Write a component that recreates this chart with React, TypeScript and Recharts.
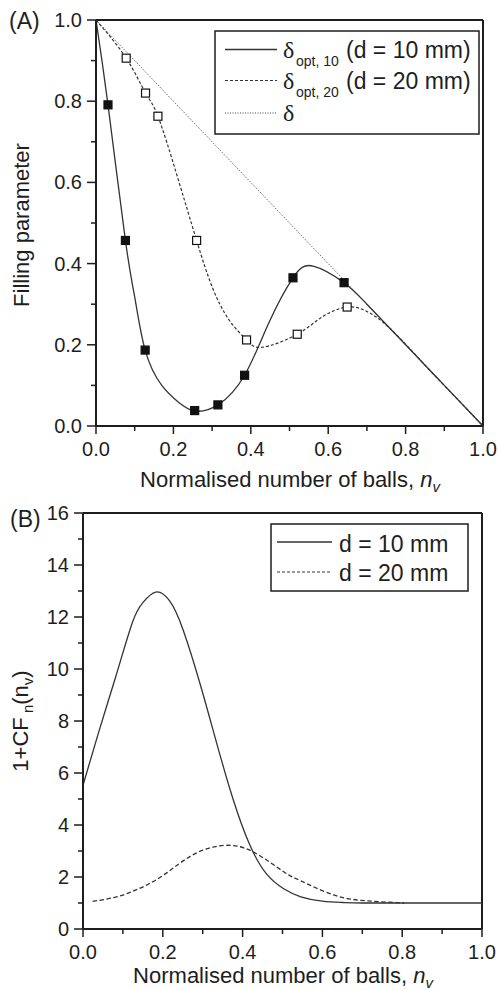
import React from 'react';
import { ComposedChart, Line, Scatter, XAxis, YAxis, ReferenceLine } from 'recharts';

const FONT = '"Liberation Sans", Arial, sans-serif';
const INK = '#1e1e1e';
const LINE = '#333';

const xTicks = [0, 0.1, 0.2, 0.3, 0.4, 0.5, 0.6, 0.7, 0.8, 0.9, 1];
const fillTicks = [0, 0.1, 0.2, 0.3, 0.4, 0.5, 0.6, 0.7, 0.8, 0.9, 1];
const cfTicks = [0, 1, 2, 3, 4, 5, 6, 7, 8, 9, 10, 11, 12, 13, 14, 15, 16];

// (A) measured points
const opt10X = [0.031, 0.076, 0.127, 0.255, 0.315, 0.384, 0.509, 0.641];
const opt10Y = [0.791, 0.457, 0.187, 0.038, 0.052, 0.125, 0.365, 0.353];
const opt20X = [0.078, 0.128, 0.16, 0.26, 0.389, 0.52, 0.649];
const opt20Y = [0.906, 0.82, 0.763, 0.457, 0.212, 0.226, 0.293];

// (A) fitted curves
const curve10X = [0, 0.031, 0.076, 0.1, 0.127, 0.17, 0.214, 0.255, 0.315, 0.384, 0.447, 0.509, 0.561, 0.641, 0.7, 0.8, 0.9, 1];
const curve10Y = [1, 0.791, 0.457, 0.318, 0.187, 0.1, 0.058, 0.037, 0.052, 0.125, 0.255, 0.365, 0.394, 0.353, 0.3, 0.2, 0.1, 0];
const curve20X = [0, 0.078, 0.128, 0.16, 0.21, 0.26, 0.3, 0.344, 0.389, 0.43, 0.52, 0.585, 0.649, 0.7, 0.76, 0.85, 0.93, 1];
const curve20Y = [1, 0.906, 0.82, 0.763, 0.615, 0.457, 0.343, 0.261, 0.212, 0.194, 0.226, 0.269, 0.293, 0.282, 0.24, 0.15, 0.07, 0];
const deltaX = [0, 1];
const deltaY = [1, 0];

// (B) 1+CF_n(n_v)
const cf10X = [0, 0.041, 0.082, 0.124, 0.15, 0.182, 0.218, 0.251, 0.293, 0.335, 0.377, 0.419, 0.461, 0.503, 0.546, 0.6, 0.65, 0.7, 0.8, 0.9, 1];
const cf10Y = [5.53, 7.66, 9.7, 11.8, 12.55, 12.96, 12.6, 11.5, 9.45, 7.15, 4.95, 3.2, 2.1, 1.55, 1.24, 1.07, 1.02, 1.0, 1.0, 1.0, 1.0];
const cf20X = [0.024, 0.08, 0.125, 0.167, 0.209, 0.251, 0.3, 0.36, 0.427, 0.503, 0.546, 0.63, 0.714, 0.805];
const cf20Y = [1.06, 1.22, 1.45, 1.75, 2.15, 2.62, 3.03, 3.22, 2.96, 2.2, 1.85, 1.3, 1.08, 1.0];

const pts = (xs: number[], ys: number[]) => xs.map((x, i) => ({ x, y: ys[i] }));

const XTick = (props: any) => {
  const { x, y, payload } = props;
  const v = payload.value;
  const major = Math.round(v * 10) % 2 === 0;
  return (
    <g>
      <line x1={x} x2={x} y1={y} y2={y + (major ? 8 : 5)} stroke={INK} strokeWidth={1.5} />
      {major && (
        <text x={x} y={y + 30} textAnchor="middle" fontSize={20} fontFamily={FONT} fill={INK}>
          {v.toFixed(1)}
        </text>
      )}
    </g>
  );
};

const makeYTick = (isMajor: (v: number) => boolean, fmt: (v: number) => string) => (props: any) => {
  const { x, y, payload } = props;
  const v = payload.value;
  const major = isMajor(v);
  return (
    <g>
      <line x1={x - (major ? 9 : 5)} x2={x} y1={y} y2={y} stroke={INK} strokeWidth={1.5} />
      {major && (
        <text x={x - 14} y={y + 7} textAnchor="end" fontSize={20} fontFamily={FONT} fill={INK}>
          {fmt(v)}
        </text>
      )}
    </g>
  );
};

const FillTick = makeYTick((v) => Math.round(v * 10) % 2 === 0, (v) => v.toFixed(1));
const CfTick = makeYTick((v) => v % 2 === 0, (v) => String(v));

const square = (filled: boolean) => (props: any) => (
  <rect
    x={props.cx - 4}
    y={props.cy - 4}
    width={8}
    height={8}
    fill={filled ? '#111' : '#fff'}
    stroke="#111"
    strokeWidth={1.2}
  />
);

const axisLine = { stroke: INK, strokeWidth: 2 };

export default function App() {
  return (
    <div style={{ position: 'absolute', left: 0, top: 0, width: 498, height: 990, background: '#fff' }}>
      <div style={{ position: 'absolute', left: 0, top: 0 }}>
        <ComposedChart width={498} height={490} margin={{ top: 20, right: 15, left: 0, bottom: 0 }}>
          <XAxis
            dataKey="x"
            type="number"
            domain={[0, 1]}
            ticks={xTicks}
            interval={0}
            tickSize={0}
            tickMargin={0}
            tickLine={false}
            tick={XTick}
            axisLine={axisLine}
            height={64}
          />
          <YAxis
            type="number"
            domain={[0, 1]}
            ticks={fillTicks}
            interval={0}
            tickSize={0}
            tickMargin={0}
            tickLine={false}
            tick={FillTick}
            axisLine={axisLine}
            width={96}
          />
          <ReferenceLine y={1} stroke={INK} strokeWidth={2} />
          <ReferenceLine x={1} stroke={INK} strokeWidth={2} />
          <Line data={pts(deltaX, deltaY)} dataKey="y" type="linear" stroke="#444" strokeWidth={1} strokeDasharray="1 1.5" dot={false} isAnimationActive={false} />
          <Line data={pts(curve20X, curve20Y)} dataKey="y" type="natural" stroke={LINE} strokeWidth={1.2} strokeDasharray="3 2" dot={false} isAnimationActive={false} />
          <Line data={pts(curve10X, curve10Y)} dataKey="y" type="natural" stroke={LINE} strokeWidth={1.3} dot={false} isAnimationActive={false} />
          <Scatter data={pts(opt20X, opt20Y)} dataKey="y" shape={square(false)} isAnimationActive={false} />
          <Scatter data={pts(opt10X, opt10Y)} dataKey="y" shape={square(true)} isAnimationActive={false} />
        </ComposedChart>
      </div>
      <div style={{ position: 'absolute', left: 0, top: 490 }}>
        <ComposedChart width={498} height={500} margin={{ top: 23, right: 16, left: 0, bottom: 0 }}>
          <XAxis
            dataKey="x"
            type="number"
            domain={[0, 1]}
            ticks={xTicks}
            interval={0}
            tickSize={0}
            tickMargin={0}
            tickLine={false}
            tick={XTick}
            axisLine={axisLine}
            height={61}
          />
          <YAxis
            type="number"
            domain={[0, 16]}
            ticks={cfTicks}
            interval={0}
            tickSize={0}
            tickMargin={0}
            tickLine={false}
            tick={CfTick}
            axisLine={axisLine}
            width={83}
          />
          <ReferenceLine y={16} stroke={INK} strokeWidth={2} />
          <ReferenceLine x={1} stroke={INK} strokeWidth={2} />
          <Line data={pts(cf20X, cf20Y)} dataKey="y" type="natural" stroke={LINE} strokeWidth={1.3} strokeDasharray="4.5 2.5" dot={false} isAnimationActive={false} />
          <Line data={pts(cf10X, cf10Y)} dataKey="y" type="natural" stroke={LINE} strokeWidth={1.3} dot={false} isAnimationActive={false} />
        </ComposedChart>
      </div>
      <svg width={498} height={990} style={{ position: 'absolute', left: 0, top: 0, pointerEvents: 'none' }} fontFamily={FONT} fill={INK}>
        {/* panel labels */}
        <text x={9} y={29} fontSize={23}>(A)</text>
        <text x={10} y={527} fontSize={23}>(B)</text>

        {/* axis titles A */}
        <text transform="translate(29,225) rotate(-90)" textAnchor="middle" fontSize={22}>Filling parameter</text>
        <text x={290} y={487} textAnchor="middle" fontSize={22}>
          Normalised number of balls, <tspan fontStyle="italic">n</tspan>
          <tspan fontStyle="italic" fontSize={15} dy={5}>v</tspan>
        </text>

        {/* axis titles B */}
        <text transform="translate(28,721) rotate(-90)" textAnchor="middle" fontSize={22}>
          1+CF<tspan fontSize={15} dy={5}> n</tspan>
          <tspan dy={-5}>(n</tspan>
          <tspan fontSize={15} dy={5}>v</tspan>
          <tspan dy={-5}>)</tspan>
        </text>
        <text x={283} y={983} textAnchor="middle" fontSize={22}>
          Normalised number of balls, <tspan fontStyle="italic">n</tspan>
          <tspan fontStyle="italic" fontSize={15} dy={5}>v</tspan>
        </text>

        {/* legend A */}
        <rect x={215} y={31} width={264} height={103} fill="#fff" stroke={INK} strokeWidth={1.5} />
        <line x1={225} x2={277} y1={49.5} y2={49.5} stroke={LINE} strokeWidth={1.3} />
        <line x1={225} x2={277} y1={80.5} y2={80.5} stroke={LINE} strokeWidth={1.2} strokeDasharray="3 2" />
        <line x1={225} x2={277} y1={113} y2={113} stroke="#444" strokeWidth={1} strokeDasharray="1 1.5" />
        <text x={283} y={58} fontSize={24} fontFamily='"Liberation Serif", serif'>δ</text>
        <text x={296} y={66} fontSize={14}>opt, 10</text>
        <text x={346} y={58} fontSize={23}>(d = 10 mm)</text>
        <text x={283} y={89} fontSize={24} fontFamily='"Liberation Serif", serif'>δ</text>
        <text x={296} y={97} fontSize={14}>opt, 20</text>
        <text x={346} y={89} fontSize={23}>(d = 20 mm)</text>
        <text x={283} y={121} fontSize={24} fontFamily='"Liberation Serif", serif'>δ</text>

        {/* legend B */}
        <rect x={271} y={524} width={197} height={67} fill="#fff" stroke={INK} strokeWidth={1.5} />
        <line x1={277} x2={332} y1={542} y2={542} stroke={LINE} strokeWidth={1.3} />
        <line x1={277} x2={332} y1={572} y2={572} stroke={LINE} strokeWidth={1.2} strokeDasharray="3 2" />
        <text x={339} y={552} fontSize={23}>d = 10 mm</text>
        <text x={339} y={581} fontSize={23}>d = 20 mm</text>
      </svg>
    </div>
  );
}
